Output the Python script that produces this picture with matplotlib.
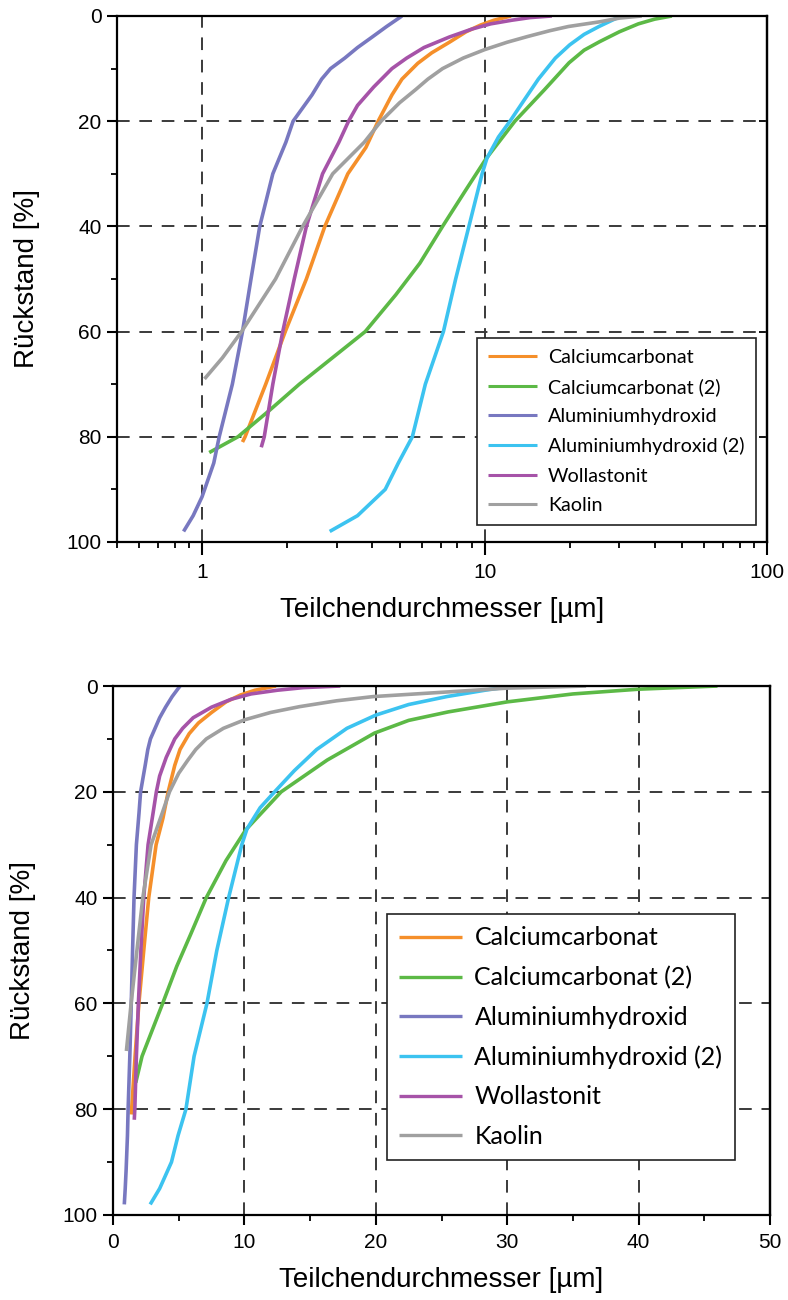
import matplotlib
matplotlib.use("Agg")
import matplotlib.pyplot as plt
from matplotlib.ticker import FixedLocator, LogLocator, NullFormatter, MultipleLocator

plt.rcParams['font.family'] = ['Liberation Sans', 'DejaVu Sans']

# data: residue [%] vs particle diameter [um]
names = ["Calciumcarbonat", "Calciumcarbonat (2)", "Aluminiumhydroxid",
         "Aluminiumhydroxid (2)", "Wollastonit", "Kaolin"]
colors = ["#F58F2A", "#5CB946", "#7878C0", "#3CC3F0", "#A653A8", "#A0A0A0"]

cc_y = [81, 80, 70, 60, 50, 40, 30, 25, 20, 15, 12, 9, 7, 5, 3, 1.7, 0.8, 0]
cc_x = [1.39, 1.42, 1.68, 1.97, 2.34, 2.72, 3.28, 3.8, 4.2, 4.7, 5.1, 5.8, 6.5, 7.5, 8.6, 9.7, 10.8, 12.4]

cc2_y = [83, 80, 75, 70, 60, 53, 47, 40, 33, 27.2, 20, 14, 8.9, 6.5, 4.9, 3, 1.5, 0.6, 0]
cc2_x = [1.06, 1.34, 1.73, 2.21, 3.78, 4.85, 5.9, 7.1, 8.6, 10.1, 12.8, 16.3, 19.9, 22.5, 25.5, 30.0, 35.0, 40.0, 46.0]

ah_y = [98, 95, 91.4, 85, 80, 70, 60, 50, 40, 30, 24, 20, 15, 12, 10, 8, 6, 4, 2, 0]
ah_x = [0.86, 0.93, 1.0, 1.1, 1.15, 1.28, 1.39, 1.49, 1.6, 1.78, 1.98, 2.1, 2.45, 2.65, 2.85, 3.2, 3.55, 4.0, 4.5, 5.1]

ah2_y = [98, 95, 90, 85, 80, 70, 60, 50, 40, 30, 27, 23, 20, 16, 12, 8, 5.5, 3.5, 2, 0.8, 0]
ah2_x = [2.83, 3.55, 4.45, 4.95, 5.55, 6.17, 7.15, 7.9, 8.8, 9.8, 10.2, 11.2, 12.3, 13.8, 15.5, 17.8, 20.0, 22.5, 25.4, 28.3, 30.5]

wo_y = [82, 80, 70, 60, 50, 40, 30, 24, 20, 17, 13.5, 10, 8, 6, 4, 2.5, 1.5, 0.8, 0.3, 0]
wo_x = [1.62, 1.66, 1.78, 1.93, 2.12, 2.34, 2.67, 3.05, 3.3, 3.55, 4.05, 4.7, 5.3, 6.1, 7.5, 9.0, 10.5, 12.5, 14.5, 17.3]

ka_y = [69, 65, 60, 50, 40, 30, 24, 20, 16.5, 14, 12, 10, 8, 6.4, 5, 3.9, 2.8, 2, 1.1, 0.4, 0]
ka_x = [1.02, 1.18, 1.38, 1.82, 2.27, 2.9, 3.75, 4.3, 5.0, 5.7, 6.3, 7.1, 8.4, 10.0, 12.0, 14.2, 17.0, 19.8, 25.6, 30.0, 36.0]

series_x = [cc_x, cc2_x, ah_x, ah2_x, wo_x, ka_x]
series_y = [cc_y, cc2_y, ah_y, ah2_y, wo_y, ka_y]
# in the linear plot the green curve only starts at 75 %
lin_ymax = [100, 75, 100, 100, 100, 100]

fig = plt.figure(figsize=(7.88, 13), dpi=100)
ax1 = fig.add_axes([0.1485, 0.5831, 0.825, 0.4046])
ax2 = fig.add_axes([0.1434, 0.0654, 0.8338, 0.4069])

grid_kw = dict(color="#3a3a3a", linewidth=1.4, linestyle=(0, (6.5, 5)))


def style(ax):
    ax.set_ylim(100, 0)
    ax.yaxis.set_major_locator(MultipleLocator(20))
    ax.yaxis.set_minor_locator(MultipleLocator(10))
    for s in ax.spines.values():
        s.set_linewidth(1.6)
    ax.tick_params(which="major", direction="out", length=7, width=1.5,
                   labelsize=15, pad=4)
    ax.tick_params(which="minor", direction="out", length=4.5, width=1.3)
    ax.tick_params(axis="x", which="major", pad=6)
    ax.grid(True, which="major", **grid_kw)
    ax.set_axisbelow(True)
    ax.set_ylabel("Rückstand [%]", fontsize=20, labelpad=19)
    ax.set_xlabel("Teilchendurchmesser [µm]", fontsize=20, labelpad=11)
    sec = ax.secondary_yaxis("right")
    sec.tick_params(direction="in", length=6, width=1.3, labelright=False)
    sec.set_yticks([20, 40, 60, 80])
    sec.spines["right"].set_linewidth(1.6)


# top: log scale
for x, y, n, c in zip(series_x, series_y, names, colors):
    ax1.plot(x, y, color=c, linewidth=2.6, label=n, solid_capstyle="butt")
ax1.set_xscale("log")
ax1.set_xlim(0.5, 100)
style(ax1)
ax1.xaxis.set_major_locator(FixedLocator([1, 10, 100]))
ax1.set_xticklabels(["1", "10", "100"])
ax1.xaxis.set_minor_locator(LogLocator(base=10, subs=range(2, 10)))
ax1.xaxis.set_minor_formatter(NullFormatter())
ax1.tick_params(axis="x", which="major", length=9)

leg1 = ax1.legend(loc="upper left", bbox_to_anchor=(0.554, 0.388), borderaxespad=0,
                  handlelength=2.5, handletextpad=0.55, labelspacing=0.62,
                  borderpad=0.55, fancybox=False, framealpha=1,
                  prop={"family": "Lato", "size": 14.2})
leg1.get_frame().set_edgecolor("#222222")
leg1.get_frame().set_linewidth(1.2)
for h in leg1.get_lines():
    h.set_linewidth(2.2)

# bottom: linear scale
for x, y, n, c, ym in zip(series_x, series_y, names, colors, lin_ymax):
    xs = [a for a, b in zip(x, y) if b <= ym]
    ys = [b for b in y if b <= ym]
    ax2.plot(xs, ys, color=c, linewidth=2.6, label=n, solid_capstyle="butt")
ax2.set_xlim(0, 50)
style(ax2)
ax2.xaxis.set_major_locator(MultipleLocator(10))
ax2.xaxis.set_minor_locator(MultipleLocator(5))
sec_top = ax2.secondary_xaxis("top")
sec_top.tick_params(direction="in", length=6, width=1.3, labeltop=False)
sec_top.set_xticks([10, 20, 30, 40])

leg2 = ax2.legend(loc="upper left", bbox_to_anchor=(0.417, 0.569), borderaxespad=0,
                  handlelength=2.5, handletextpad=0.5, labelspacing=0.66,
                  borderpad=0.5, fancybox=False, framealpha=1,
                  prop={"family": "Lato", "size": 18})
leg2.get_frame().set_edgecolor("#222222")
leg2.get_frame().set_linewidth(1.2)
for h in leg2.get_lines():
    h.set_linewidth(2.4)

fig.savefig("out.png", dpi=100)
